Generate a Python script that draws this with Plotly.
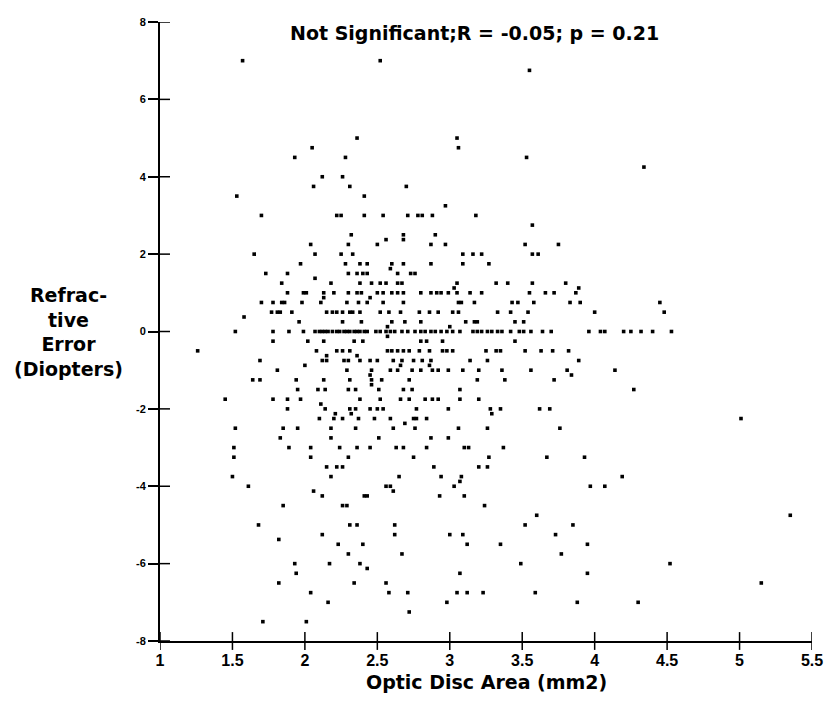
import plotly.graph_objects as go

# Refractive error levels (Diopters) and the optic disc areas (mm2) observed at each level
refractive_levels = [
    7.0, 6.75, 5.0, 4.75, 4.5, 4.25, 4.0, 3.75, 3.5, 3.25, 3.0, 2.75, 2.5, 2.375, 2.25, 2.0,
    1.75, 1.625, 1.5, 1.375, 1.25, 1.125, 1.0, 0.875, 0.75, 0.5, 0.375, 0.25, 0.125, 0.0,
    -0.125, -0.25, -0.5, -0.625, -0.75, -0.875, -1.0, -1.125, -1.25, -1.375, -1.5, -1.75,
    -1.875, -2.0, -2.125, -2.25, -2.375, -2.5, -2.75, -3.0, -3.25, -3.5, -3.75, -3.875,
    -4.0, -4.125, -4.25, -4.5, -4.75, -5.0, -5.25, -5.375, -5.5, -5.75, -6.0, -6.125,
    -6.25, -6.5, -6.75, -7.0, -7.25, -7.5,
]

disc_area_by_level = [
    [1.57, 2.52],
    [3.55],
    [2.36, 3.05],
    [2.05, 3.06],
    [1.93, 2.28, 3.53],
    [4.34],
    [2.12, 2.26],
    [2.06, 2.31, 2.70],
    [1.53, 2.41],
    [2.97],
    [1.70, 2.22, 2.25, 2.41, 2.54, 2.71, 2.78, 2.81, 2.88, 3.18],
    [3.57],
    [2.32, 2.68, 2.90],
    [2.56, 2.68],
    [2.04, 2.30, 2.50, 2.87, 2.97, 3.52, 3.75],
    [1.65, 2.07, 2.25, 2.33, 3.09, 3.16, 3.22, 3.57, 3.61],
    [1.97, 2.28, 2.38, 2.43, 2.60, 2.68, 2.87, 3.09, 3.27],
    [2.59],
    [1.73, 1.88, 2.30, 2.36, 2.40, 2.43, 2.64, 2.73, 2.76],
    [2.07],
    [1.84, 2.18, 2.38, 2.46, 2.52, 2.56, 2.64, 2.67, 3.05, 3.32, 3.40, 3.57, 3.80],
    [3.03, 3.89],
    [1.88, 1.99, 2.01, 2.13, 2.20, 2.30, 2.36, 2.39, 2.50, 2.54, 2.60, 2.64, 2.68, 2.80,
     2.87, 2.91, 2.94, 2.99, 3.05, 3.14, 3.22, 3.55, 3.66, 3.72, 3.87],
    [2.13, 2.45],
    [1.70, 1.78, 1.84, 1.86, 1.98, 2.11, 2.29, 2.37, 2.43, 2.54, 2.68, 3.06, 3.08, 3.17,
     3.43, 3.47, 3.58, 3.83, 3.90, 4.45],
    [1.77, 1.81, 1.83, 1.91, 2.15, 2.19, 2.22, 2.26, 2.31, 2.33, 2.38, 2.52, 2.58, 2.66,
     2.79, 2.86, 2.92, 3.02, 3.06, 3.33, 3.42, 3.54, 4.00, 4.48],
    [1.58],
    [1.96, 2.26, 2.39, 2.60, 2.69, 2.80, 3.11, 3.17, 3.19, 3.45, 3.51],
    [2.57, 3.00],
    [1.52, 1.78, 1.89, 1.99, 2.07, 2.10, 2.12, 2.14, 2.16, 2.19, 2.22, 2.24, 2.27, 2.29,
     2.31, 2.34, 2.36, 2.38, 2.41, 2.43, 2.49, 2.52, 2.56, 2.59, 2.62, 2.67, 2.71, 2.76,
     2.80, 2.83, 2.87, 2.90, 2.94, 2.98, 3.02, 3.07, 3.16, 3.19, 3.22, 3.26, 3.29, 3.33,
     3.36, 3.42, 3.48, 3.51, 3.56, 3.64, 3.70, 3.96, 4.04, 4.07, 4.20, 4.25, 4.32, 4.40, 4.53],
    [2.57],
    [1.78, 2.02, 2.13, 2.34, 2.40, 2.80, 2.84, 2.95, 3.45],
    [1.26, 2.08, 2.22, 2.26, 2.31, 2.57, 2.60, 2.64, 2.68, 2.72, 2.79, 2.86, 2.95, 2.98,
     3.02, 3.25, 3.32, 3.35, 3.52, 3.63, 3.71, 3.82],
    [2.15, 2.36],
    [1.69, 2.12, 2.15, 2.27, 2.30, 2.38, 2.45, 2.50, 2.61, 2.67, 2.75, 2.81, 2.87, 3.14,
     3.26, 3.89],
    [2.00, 2.66, 2.86],
    [1.81, 2.29, 2.46, 2.59, 2.64, 2.74, 2.80, 2.88, 2.92, 2.99, 3.09, 3.20, 3.36, 3.56,
     3.81, 4.14],
    [2.45, 3.84],
    [1.64, 1.69, 1.94, 2.13, 2.31, 2.46, 2.53, 2.72, 3.19, 3.38, 3.72],
    [2.46],
    [1.95, 2.09, 2.14, 2.30, 2.35, 2.51, 2.68, 2.74, 3.07, 4.27],
    [1.45, 1.78, 1.88, 1.97, 2.38, 2.52, 2.66, 2.72, 2.83, 2.88, 2.92, 3.07, 3.20],
    [2.11],
    [1.88, 2.14, 2.31, 2.35, 2.45, 2.50, 2.54, 2.77, 2.99, 3.28, 3.35, 3.62, 3.69],
    [2.21, 2.32, 3.29],
    [2.10, 2.20, 2.26, 2.37, 2.48, 2.59, 2.75, 2.77, 2.84, 5.01],
    [2.69],
    [1.52, 1.85, 1.95, 2.18, 2.35, 2.61, 2.76, 3.06, 3.26, 3.76],
    [1.83, 2.18, 2.51, 2.87, 2.99],
    [1.51, 1.89, 2.04, 2.24, 2.36, 2.45, 2.63, 2.68, 2.84, 3.10, 3.13, 3.37],
    [1.51, 2.04, 2.30, 2.75, 3.27, 3.67, 3.93],
    [2.15, 2.22, 2.26, 2.89, 3.20, 3.26],
    [1.50, 2.18, 2.65, 2.94, 3.08, 4.19],
    [3.07],
    [1.61, 2.56, 2.59, 3.03, 3.97, 4.07],
    [2.06, 2.61],
    [2.12, 2.41, 2.43, 2.93, 3.10],
    [1.85, 2.26, 2.29, 3.24],
    [3.60, 5.35],
    [1.68, 2.31, 2.36, 2.62, 3.52, 3.85],
    [2.12, 2.62, 3.00, 3.09, 3.73],
    [1.82],
    [2.23, 2.40, 3.12, 3.35, 3.95],
    [2.30, 2.67, 3.77],
    [1.93, 2.17, 2.38, 3.49, 4.52],
    [2.43],
    [1.94, 3.07, 3.95],
    [1.82, 2.34, 2.56, 5.15],
    [2.04, 2.58, 2.71, 3.05, 3.12, 3.23, 3.59],
    [2.16, 2.98, 3.88, 4.30],
    [2.72],
    [1.71, 2.01],
]

x_tick_vals = [1, 1.5, 2, 2.5, 3, 3.5, 4, 4.5, 5, 5.5]
x_tick_text = ["1", "1.5", "2", "2.5", "3", "3.5", "4", "4.5", "5", "5.5"]
y_tick_vals = [-8, -6, -4, -2, 0, 2, 4, 6, 8]
y_tick_text = ["-8", "-6", "-4", "-2", "0", "2", "4", "6", "8"]

title_text = "Not Significant;R = -0.05; p = 0.21"
x_title = "Optic Disc Area (mm2)"
y_title = "Refrac-<br>tive<br>Error<br>(Diopters)"

disc_area = []
refractive_error = []
for level, areas in zip(refractive_levels, disc_area_by_level):
    for a in areas:
        disc_area.append(a)
        refractive_error.append(level)

BOLD = "DejaVu Sans"

# page body has an 8px margin: figure is sized/offset so the plot area lands at
# x 160..813 and y 16..641 in the 839x703 window
W, H = 823, 687
ML, MR, MT, MB = 152, 18, 8, 54
plot_w = W - ML - MR
plot_h = H - MT - MB

fig = go.Figure()
fig.add_trace(go.Scatter(
    x=disc_area, y=refractive_error, mode="markers",
    marker=dict(symbol="square", size=3.6, color="black", line=dict(width=0)),
    showlegend=False, hoverinfo="x+y",
))

# crossing tick marks: inner half of y ticks, both halves of x ticks
tick_line = dict(color="black", width=1.5)
shapes = []
for v in y_tick_vals:
    shapes.append(dict(type="line", xref="paper", yref="y", x0=0, x1=10 / plot_w,
                       y0=v, y1=v, line=tick_line))
for v in x_tick_vals:
    shapes.append(dict(type="line", xref="x", yref="paper", x0=v, x1=v,
                       y0=-9 / plot_h, y1=9 / plot_h, line=tick_line))

fig.update_layout(
    width=W, height=H,
    margin=dict(l=ML, r=MR, t=MT, b=MB),
    paper_bgcolor="white", plot_bgcolor="white",
    xaxis=dict(range=[1, 5.5], tickvals=x_tick_vals, ticktext=x_tick_text,
               showgrid=False, zeroline=False, showline=True, linecolor="black", linewidth=2,
               ticks="outside", ticklen=4, tickcolor="rgba(0,0,0,0)",
               tickfont=dict(family="Liberation Sans", size=16, color="black", weight="bold")),
    yaxis=dict(range=[-8, 8], tickvals=y_tick_vals, ticktext=y_tick_text,
               showgrid=False, zeroline=False, showline=True, linecolor="black", linewidth=2,
               ticks="outside", ticklen=10, tickwidth=1.5, tickcolor="black",
               tickfont=dict(family="Liberation Sans", size=11, color="black", weight="bold")),
    shapes=shapes,
    annotations=[
        dict(text=title_text, xref="paper", yref="paper", x=0.4824, y=0.9824,
             xanchor="center", yanchor="middle", showarrow=False,
             font=dict(family=BOLD, size=19, color="black", weight="bold")),
        dict(text=x_title, xref="paper", yref="paper", x=0.5008, y=-0.067,
             xanchor="center", yanchor="middle", showarrow=False,
             font=dict(family=BOLD, size=19, color="black", weight="bold")),
        dict(text=y_title, xref="paper", yref="paper", x=-0.1409, y=0.4992,
             xanchor="center", yanchor="middle", showarrow=False, align="center",
             font=dict(family=BOLD, size=19, color="black", weight="bold")),
    ],
)

fig.write_html("out.html")
